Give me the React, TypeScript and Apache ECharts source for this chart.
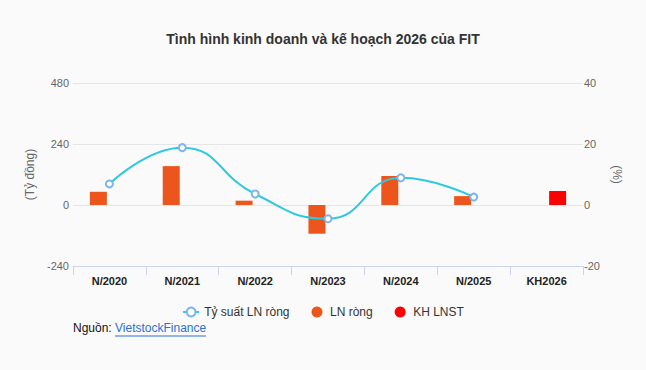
import React, { useEffect, useRef } from "react";
import * as echarts from "echarts";

const categories = ["N/2020", "N/2021", "N/2022", "N/2023", "N/2024", "N/2025", "KH2026"];
const lnRong = [52, 153, 17, -113, 114, 35, null];
const khLnst = [null, null, null, null, null, null, 55];
const tySuat = [6.9, 18.8, 3.6, -4.5, 8.9, 2.6, null];
const leftTicks = { min: -240, max: 480, interval: 240 };
const rightTicks = { min: -20, max: 40, interval: 20 };

export default function App() {
  const ref = useRef<HTMLDivElement>(null);
  useEffect(() => {
    document.body.style.margin = "0";
    const chart = echarts.init(ref.current!, null, { renderer: "svg" });
    const font = "Arial, 'Liberation Sans', sans-serif";
    chart.setOption({
      animation: false,
      backgroundColor: "#fafafa",
      textStyle: { fontFamily: font },
      title: {
        text: "Tình hình kinh doanh và kế hoạch 2026 của FIT",
        left: "center",
        top: 27,
        textStyle: { fontSize: 14, fontWeight: "bold", color: "#333333", fontFamily: font },
      },
      legend: {
        top: 301,
        left: "center",
        itemGap: 22,
        itemWidth: 16,
        itemHeight: 11,
        textStyle: { fontSize: 12, color: "#333333", fontFamily: font },
        data: [
          { name: "Tỷ suất LN ròng", itemStyle: { borderWidth: 1.5 } },
          { name: "LN ròng", icon: "circle" },
          { name: "KH LNST", icon: "circle" },
        ],
      },
      grid: { left: 73, right: 63, top: 83, bottom: 104 },
      xAxis: {
        type: "category",
        data: categories,
        axisLine: { onZero: false, lineStyle: { color: "#ccd6eb" } },
        axisTick: { show: true, length: 9, lineStyle: { color: "#ccd6eb" } },
        axisLabel: { color: "#222222", fontWeight: "bold", fontSize: 11, margin: 9, fontFamily: font },
      },
      yAxis: [
        {
          type: "value",
          ...leftTicks,
          name: "(Tỷ đồng)",
          nameLocation: "middle",
          nameGap: 32,
          nameTextStyle: { color: "#666666", fontSize: 12, fontFamily: font },
          axisLabel: { color: "#666666", fontSize: 11, margin: 4, fontFamily: font },
          splitLine: { lineStyle: { color: "#e6e6e6" } },
          axisLine: { show: false },
          axisTick: { show: false },
        },
        {
          type: "value",
          ...rightTicks,
          name: "(%)",
          nameLocation: "middle",
          nameGap: 26,
          nameRotate: -90,
          nameTextStyle: { color: "#666666", fontSize: 12, fontFamily: font },
          axisLabel: { color: "#666666", fontSize: 11, margin: 1, fontFamily: font },
          splitLine: { show: false },
          axisLine: { show: false },
          axisTick: { show: false },
        },
      ],
      series: [
        {
          name: "LN ròng",
          type: "bar",
          data: lnRong,
          barWidth: 17,
          barGap: "30%",
          itemStyle: { color: "#ec561c" },
        },
        {
          name: "KH LNST",
          type: "bar",
          data: khLnst,
          barWidth: 17,
          itemStyle: { color: "#ff0000" },
        },
        {
          name: "Tỷ suất LN ròng",
          type: "line",
          yAxisIndex: 1,
          data: tySuat,
          smooth: 0.5,
          symbol: "emptyCircle",
          symbolSize: 7,
          lineStyle: { color: "#2ec9e1", width: 2 },
          itemStyle: { color: "#7cb5ec", borderWidth: 2 },
        },
      ],
      graphic: [
        {
          type: "text",
          left: 73,
          top: 322,
          style: { text: "Nguồn: ", fontSize: 12, fill: "#111111", fontFamily: font },
        },
        {
          type: "text",
          left: 115,
          top: 322,
          style: { text: "VietstockFinance", fontSize: 12, fill: "#2a6fdb", fontFamily: font },
        },
        {
          type: "line",
          shape: { x1: 115, y1: 336, x2: 206, y2: 336 },
          style: { stroke: "#2a6fdb", lineWidth: 1 },
        },
      ],
    });
    return () => chart.dispose();
  }, []);
  return <div ref={ref} style={{ width: 646, height: 370 }} />;
}
